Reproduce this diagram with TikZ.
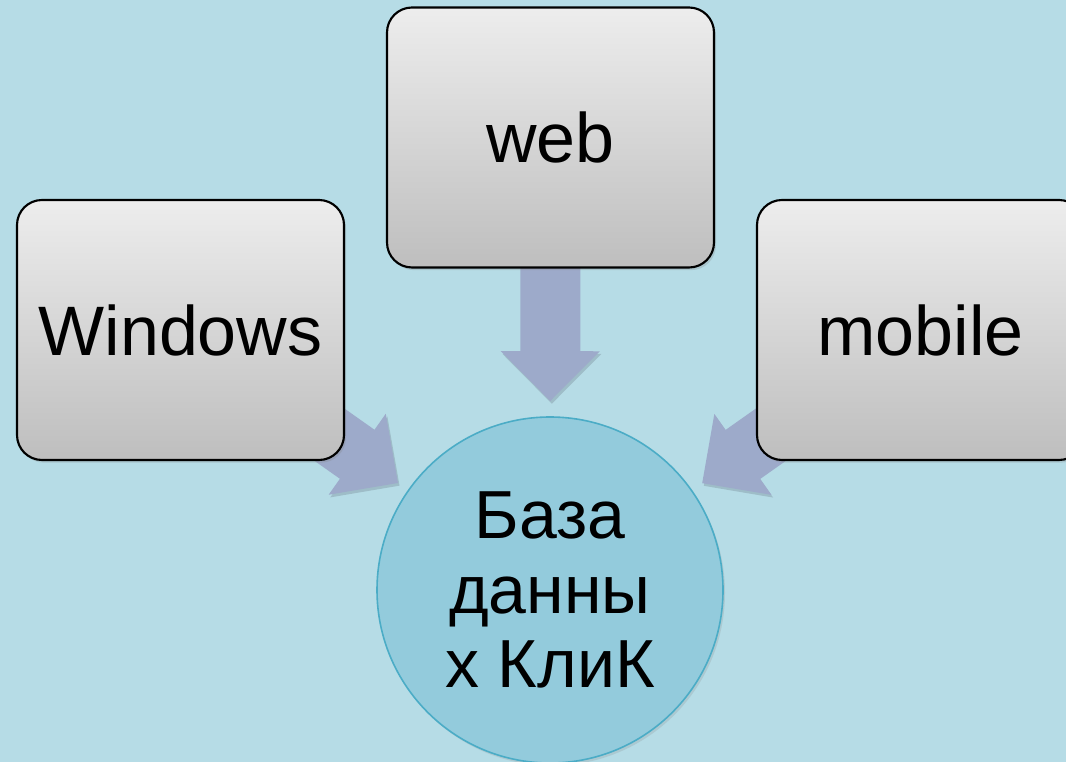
\documentclass[tikz,border=0pt]{standalone}
\usepackage{fontspec}
\setmainfont{Liberation Sans}
\usetikzlibrary{arrows.meta,shadows}
\definecolor{bgblue}{HTML}{B6DCE6}
\definecolor{circfill}{HTML}{93CBDC}
\definecolor{circline}{HTML}{4BACC6}
\definecolor{boxtop}{HTML}{EDEDED}
\definecolor{boxbot}{HTML}{BEBEBE}
\definecolor{arrowcol}{HTML}{9DAACA}
\pgfdeclarelayer{bg}
\pgfdeclarelayer{arr}
\pgfsetlayers{bg,arr,main}
\tikzset{
  box/.style={draw=black, line width=1.6pt, rounded corners=18.75pt,
    top color=boxtop, bottom color=boxbot,
    minimum width=245.25pt, minimum height=195pt, inner sep=0pt,
    font=\fontsize{52.5}{60}\selectfont,
    drop shadow={opacity=0.25, shadow xshift=1.5pt, shadow yshift=-2pt}},
  dbnode/.style={circle, draw=circline, line width=1.2pt, fill=circfill,
    minimum size=259.5pt, inner sep=0pt, align=center,
    font=\fontsize{51}{56}\selectfont,
    drop shadow={opacity=0.2, shadow xshift=1.5pt, shadow yshift=-2pt}},
  fat/.style={draw=arrowcol, line width=45pt,
    -{Triangle[width=72pt,length=37.5pt]},
    preaction={draw=black!60!arrowcol, opacity=0.2,
      transform canvas={shift={(1.2pt,-2pt)}}}}
}
\begin{document}
\begin{tikzpicture}[x=0.75pt,y=-0.75pt]
\useasboundingbox (0,0) rectangle (1066,762);
\begin{pgfonlayer}{bg}
  \fill[bgblue] (0,0) rectangle (1066,762);
\end{pgfonlayer}
\clip (0,0) rectangle (1066,762);
\node[box] (web) at (550.5,137.5) {web};
\node[box] (win) at (180.5,330) {Windows};
\node[box] (mob) at (920.5,330) {mobile};
\node[dbnode] (db) at (550,590) {База\\данны\\х КлиК};
\begin{pgfonlayer}{arr}
  \draw[fat, shorten <=-10pt, shorten >=11.25pt] (web) -- (db);
  \draw[fat, shorten <=-45pt, shorten >=9pt] (win) -- (db);
  \draw[fat, shorten <=-45pt, shorten >=9pt] (mob) -- (db);
\end{pgfonlayer}
\end{tikzpicture}
\end{document}
